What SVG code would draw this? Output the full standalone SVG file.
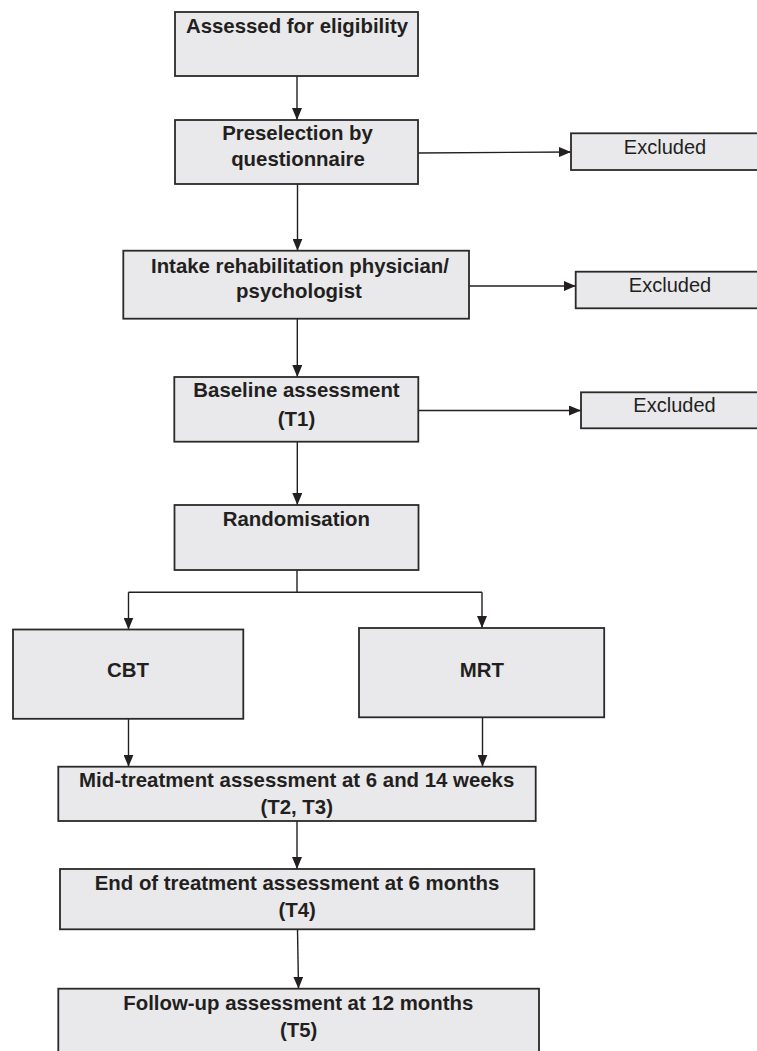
<svg xmlns="http://www.w3.org/2000/svg" width="757" height="1051" viewBox="0 0 757 1051">
  <style>
    .box { fill: #e9e9eb; stroke: #2a2a2a; stroke-width: 1.8; }
    .t { font-family: "Liberation Sans", Arial, sans-serif; font-size: 20.4px; font-weight: bold; fill: #231f20; text-anchor: middle; }
    .tr { font-family: "Liberation Sans", Arial, sans-serif; font-size: 20px; fill: #231f20; text-anchor: middle; }
    .c { fill: none; stroke: #231f20; stroke-width: 1.4; }
  </style>
  <defs>
    <marker id="ah" markerUnits="userSpaceOnUse" markerWidth="12" markerHeight="10" refX="12" refY="5" orient="auto">
      <path d="M0,0 L12,5 L0,10 z" fill="#231f20"/>
    </marker>
  </defs>
  <rect width="757" height="1051" fill="#ffffff"/>

  <g id="connectors">
    <line class="c" x1="297" y1="76" x2="297" y2="120" marker-end="url(#ah)"/>
    <line class="c" x1="418" y1="153" x2="571" y2="152" marker-end="url(#ah)"/>
    <line class="c" x1="297.5" y1="184" x2="297.5" y2="250.7" marker-end="url(#ah)"/>
    <line class="c" x1="469" y1="286" x2="575.7" y2="286" marker-end="url(#ah)"/>
    <line class="c" x1="297.3" y1="318.7" x2="297.3" y2="377" marker-end="url(#ah)"/>
    <line class="c" x1="418.3" y1="410.5" x2="581" y2="410.5" marker-end="url(#ah)"/>
    <line class="c" x1="297.3" y1="441.7" x2="297.3" y2="505" marker-end="url(#ah)"/>
    <line class="c" x1="297" y1="570" x2="297" y2="592.3"/>
    <line class="c" x1="128.5" y1="592.3" x2="482" y2="592.3"/>
    <line class="c" x1="128.5" y1="592.3" x2="128.5" y2="629.5" marker-end="url(#ah)"/>
    <line class="c" x1="482" y1="592.3" x2="482" y2="628" marker-end="url(#ah)"/>
    <line class="c" x1="128.5" y1="718.8" x2="128.5" y2="766.7" marker-end="url(#ah)"/>
    <line class="c" x1="482.5" y1="717.3" x2="482.5" y2="766.7" marker-end="url(#ah)"/>
    <line class="c" x1="297" y1="821" x2="297" y2="869" marker-end="url(#ah)"/>
    <line class="c" x1="297.5" y1="929.3" x2="298.5" y2="988.7" marker-end="url(#ah)"/>
  </g>

  <g id="assessed">
    <rect class="box" x="175" y="12" width="243" height="64"/>
    <text class="t" x="297" y="32.5">Assessed for eligibility</text>
  </g>
  <g id="preselection">
    <rect class="box" x="175" y="120" width="243" height="64"/>
    <text class="t" x="297.5" y="140">Preselection by</text>
    <text class="t" x="298" y="165.5">questionnaire</text>
  </g>
  <g id="excluded1">
    <rect class="box" x="571" y="133.3" width="200" height="36.7"/>
    <text class="tr" x="665" y="154">Excluded</text>
  </g>
  <g id="intake">
    <rect class="box" x="123.3" y="250.7" width="345.7" height="68"/>
    <text class="t" x="300" y="273.3">Intake rehabilitation physician/</text>
    <text class="t" x="299" y="298">psychologist</text>
  </g>
  <g id="excluded2">
    <rect class="box" x="575.7" y="271.7" width="200" height="36.6"/>
    <text class="tr" x="670" y="291.7">Excluded</text>
  </g>
  <g id="baseline">
    <rect class="box" x="174.3" y="377" width="244" height="64.7"/>
    <text class="t" x="296.5" y="397.3">Baseline assessment</text>
    <text class="t" x="296.5" y="426">(T1)</text>
  </g>
  <g id="excluded3">
    <rect class="box" x="581" y="392.3" width="200" height="36"/>
    <text class="tr" x="674.5" y="412.3">Excluded</text>
  </g>
  <g id="randomisation">
    <rect class="box" x="174.5" y="505" width="244" height="65"/>
    <text class="t" x="296.4" y="525.5">Randomisation</text>
  </g>
  <g id="cbt">
    <rect class="box" x="13" y="629.5" width="230.3" height="89.3"/>
    <text class="t" x="128" y="677.3">CBT</text>
  </g>
  <g id="mrt">
    <rect class="box" x="359" y="628" width="245.2" height="89.3"/>
    <text class="t" x="481.8" y="677">MRT</text>
  </g>
  <g id="midtreatment">
    <rect class="box" x="58.3" y="766.7" width="477.4" height="54.3"/>
    <text class="t" x="296.7" y="786.7">Mid-treatment assessment at 6 and 14 weeks</text>
    <text class="t" x="296.7" y="814">(T2, T3)</text>
  </g>
  <g id="endtreatment">
    <rect class="box" x="60" y="869" width="474.3" height="60.3"/>
    <text class="t" x="297" y="890">End of treatment assessment at 6 months</text>
    <text class="t" x="297.2" y="916.7">(T4)</text>
  </g>
  <g id="followup">
    <rect class="box" x="58.3" y="988.7" width="480.7" height="70"/>
    <text class="t" x="298.3" y="1010">Follow-up assessment at 12 months</text>
    <text class="t" x="298.7" y="1037.3">(T5)</text>
  </g>
</svg>
